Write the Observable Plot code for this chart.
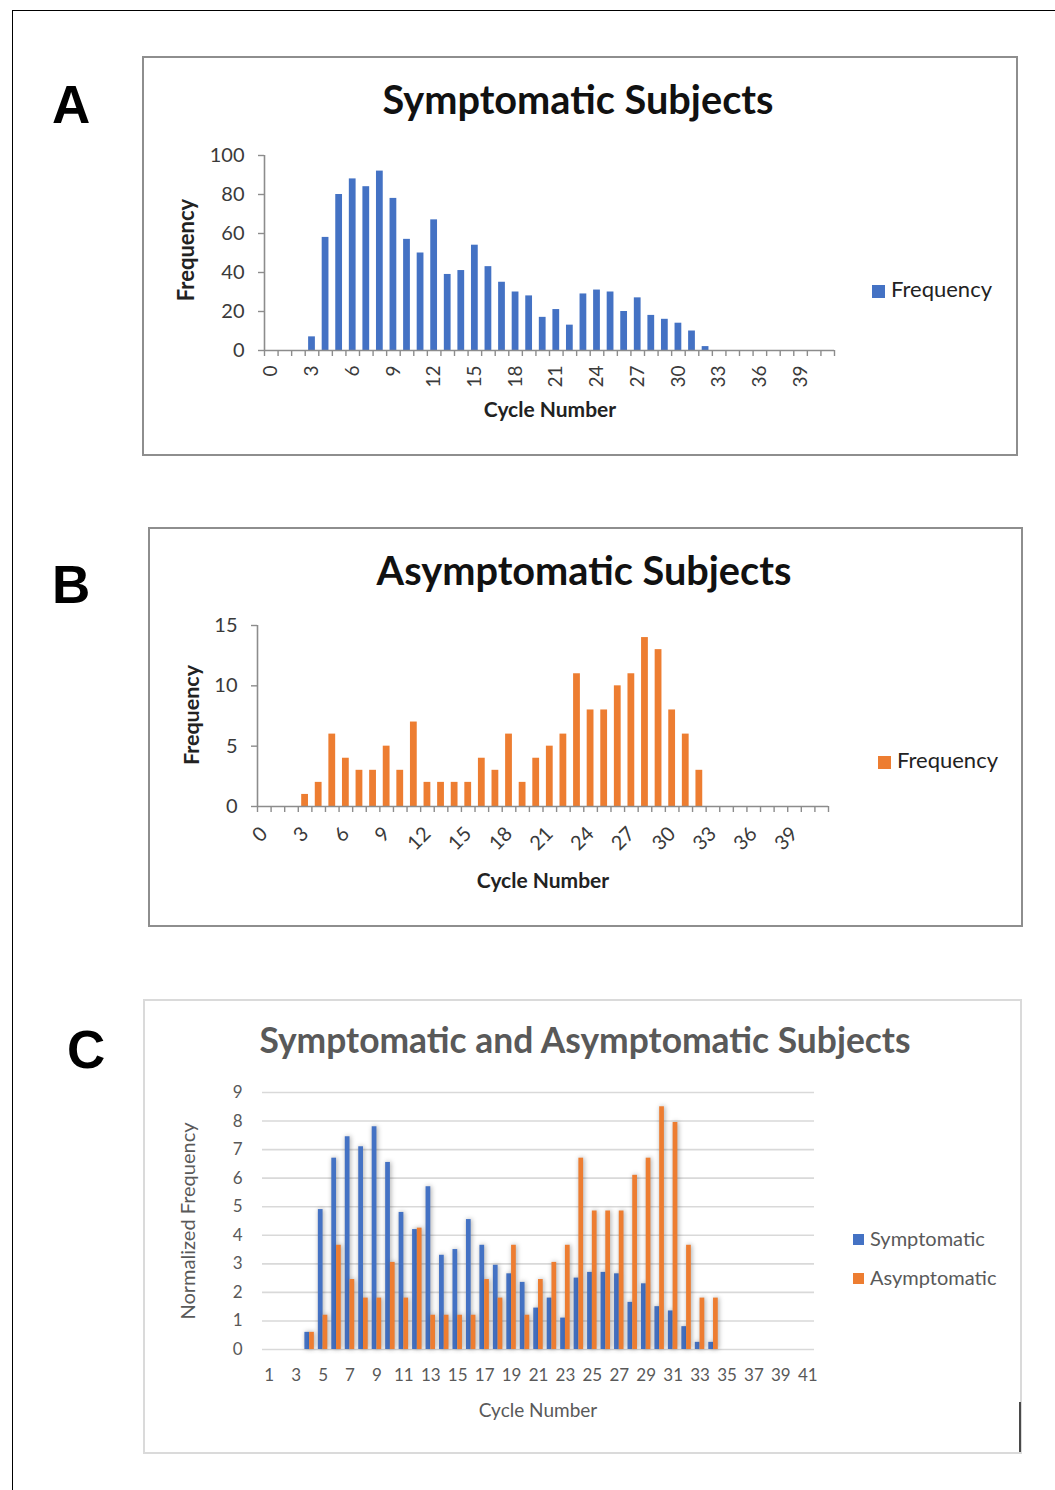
<!DOCTYPE html>
<html>
<head>
<meta charset="utf-8">
<script src="https://cdn.jsdelivr.net/npm/d3@7"></script>
<script src="https://cdn.jsdelivr.net/npm/@observablehq/plot@0.6"></script>
<style>
  html, body { margin: 0; padding: 0; background: #fff; }
  body { width: 1055px; height: 1490px; position: relative; overflow: hidden; font-family: Lato, sans-serif; }
  .abs { position: absolute; white-space: nowrap; line-height: 1; }
  .box { position: absolute; box-sizing: border-box; }
  .chart { position: absolute; }
  .sw { position: absolute; }
  #chartC g[aria-label="rect"] { filter: drop-shadow(1px 0px 2.5px rgba(0,0,0,0.34)); }
</style>
</head>
<body>
<div id="root"></div>
<script>
// ---------------- data ----------------
const BLUE = "#4472C4";
const ORANGE = "#ED7D31";

// Panel A & B categories (cycle numbers 0..41), bars present at 3..32
const cycleCats = d3.range(0, 42);
const barCyclesAB = [3,4,5,6,7,8,9,10,11,12,13,14,15,16,17,18,19,20,21,22,23,24,25,26,27,28,29,30,31,32];
const freqSymptomatic = [7,58,80,88,84,92,78,57,50,67,39,41,54,43,35,30,28,17,21,13,29,31,30,20,27,18,16,14,10,2];
const freqAsymptomatic = [1,2,6,4,3,3,5,3,7,2,2,2,2,4,3,6,2,4,5,6,11,8,8,10,11,14,13,8,6,3];
const yTicksA = [0,20,40,60,80,100];
const yTicksB = [0,5,10,15];
const xLabelsAB = [0,3,6,9,12,15,18,21,24,27,30,33,36,39];

// Panel C categories (1..41), bars at 4..34
const cycleCatsC = d3.range(1, 42);
const barCyclesC = [4,5,6,7,8,9,10,11,12,13,14,15,16,17,18,19,20,21,22,23,24,25,26,27,28,29,30,31,32,33,34];
const normSymptomatic = [0.6,4.9,6.7,7.45,7.1,7.8,6.55,4.8,4.2,5.7,3.3,3.5,4.55,3.65,2.95,2.65,2.35,1.45,1.8,1.1,2.5,2.7,2.7,2.65,1.65,2.3,1.5,1.35,0.8,0.25,0.25];
const normAsymptomatic = [0.6,1.2,3.65,2.45,1.8,1.8,3.05,1.8,4.25,1.2,1.2,1.2,1.2,2.45,1.8,3.65,1.2,2.45,3.05,3.65,6.7,4.85,4.85,4.85,6.1,6.7,8.5,7.95,3.65,1.8,1.8];
const yTicksC = [0,1,2,3,4,5,6,7,8,9];
const xLabelsC = [1,3,5,7,9,11,13,15,17,19,21,23,25,27,29,31,33,35,37,39,41];

// ---------------- helpers ----------------
const root = document.getElementById("root");
function el(cls, css, html) {
  const d = document.createElement("div");
  d.className = cls;
  Object.assign(d.style, css);
  if (html !== undefined) d.textContent = html;
  root.appendChild(d);
  return d;
}
// place text by baseline (Lato baseline ~0.887em below top with line-height 1)
function text(str, x, baseline, fs, opts = {}) {
  const ratio = opts.ratio || 0.887;
  const css = {
    left: x + "px",
    top: (baseline - ratio * fs) + "px",
    fontSize: fs + "px",
    fontWeight: opts.bold ? "700" : "400",
    color: opts.color || "#000",
    fontFamily: opts.font || "Lato, sans-serif"
  };
  if (opts.anchor === "middle") css.transform = "translateX(-50%)";
  return el("abs", css, str);
}
function vtext(str, cx, cy, fs, opts = {}) {
  return el("abs", {
    left: cx + "px", top: cy + "px",
    fontSize: fs + "px",
    fontWeight: opts.bold ? "700" : "400",
    color: opts.color || "#000",
    transform: "translate(-50%, -50%) rotate(-90deg)",
    fontFamily: "Lato, sans-serif"
  }, str);
}

// outer frame
el("box", {left: "12px", top: "10px", width: "1200px", height: "1600px", borderLeft: "1.5px solid #000", borderTop: "1.5px solid #000"});
// panel boxes
el("box", {left: "142px", top: "56px", width: "876px", height: "400px", border: "2px solid #8e8e8e"});
el("box", {left: "148px", top: "527px", width: "875px", height: "400px", border: "2px solid #8e8e8e"});
el("box", {left: "143px", top: "999px", width: "879px", height: "455px", border: "2px solid #dadada"});
el("box", {left: "1019px", top: "1402px", width: "2px", height: "50px", background: "#4a4a4a"});

// panel letters
text("A", 52, 123, 53, {bold: true, font: "'Liberation Sans', Arial, sans-serif", ratio: 0.846});
text("B", 52, 603, 53, {bold: true, font: "'Liberation Sans', Arial, sans-serif", ratio: 0.846});
text("C", 67, 1068, 53, {bold: true, font: "'Liberation Sans', Arial, sans-serif", ratio: 0.846});

// titles
text("Symptomatic Subjects", 578, 114, 39.7, {bold: true, anchor: "middle", color: "#111"});
text("Asymptomatic Subjects", 584, 585, 39.7, {bold: true, anchor: "middle", color: "#111"});
text("Symptomatic and Asymptomatic Subjects", 585, 1053, 35.4, {bold: true, anchor: "middle", color: "#595959"});

// axis titles
vtext("Frequency", 186, 250, 22, {bold: true, color: "#222"});
text("Cycle Number", 550, 417, 21, {bold: true, anchor: "middle", color: "#222"});
vtext("Frequency", 192, 715, 21.5, {bold: true, color: "#222"});
text("Cycle Number", 543, 888, 21, {bold: true, anchor: "middle", color: "#222"});
vtext("Normalized Frequency", 187, 1221, 20, {color: "#595959"});
text("Cycle Number", 538, 1417, 19, {anchor: "middle", color: "#595959"});

// legends
el("sw", {left: "872px", top: "285px", width: "13px", height: "13px", background: BLUE});
text("Frequency", 891, 298, 22, {color: "#222"});
el("sw", {left: "878px", top: "756px", width: "13px", height: "13px", background: ORANGE});
text("Frequency", 897, 769, 22, {color: "#222"});
el("sw", {left: "853px", top: "1234px", width: "11px", height: "11px", background: BLUE});
text("Symptomatic", 870, 1246, 20, {color: "#595959"});
el("sw", {left: "853px", top: "1273px", width: "11px", height: "11px", background: ORANGE});
text("Asymptomatic", 870, 1285, 20, {color: "#595959"});

// ---------------- charts ----------------
const AXIS = "#8c8c8c";
const TXT = "#3a3a3a";
const edgesAB = cycleCats.map(c => c - 0.5).concat([cycleCats[cycleCats.length - 1] + 0.5]);

function mount(svg, left, top, id) {
  const wrap = el("chart", {left: left + "px", top: top + "px"});
  if (id) wrap.id = id;
  wrap.appendChild(svg);
}

function panelAB(values, color, yTicks, rotate, dims) {
  const data = barCyclesAB.map((c, i) => ({c, v: values[i]}));
  const yMax = yTicks[yTicks.length - 1];
  return Plot.plot({
    width: dims.width, height: dims.height,
    marginLeft: dims.ml, marginRight: dims.mr, marginTop: dims.mt, marginBottom: dims.mb,
    style: {fontFamily: "Lato, sans-serif", fontSize: "20px", background: "transparent", overflow: "visible"},
    x: {type: "linear", domain: [edgesAB[0], edgesAB[edgesAB.length - 1]]},
    y: {domain: [0, yMax]},
    marks: [
      Plot.rectY(data, {x1: d => d.c - 0.5, x2: d => d.c + 0.5, y: "v", fill: color, insetLeft: 3.4, insetRight: 3.4}),
      Plot.ruleY([0], {stroke: AXIS, strokeWidth: 1.6}),
      Plot.ruleX([edgesAB[0]], {y1: 0, y2: yMax, stroke: AXIS, strokeWidth: 1.6}),
      Plot.axisY({ticks: yTicks, tickSize: 6, tickFormat: () => "", color: AXIS, label: null, strokeWidth: 1.4}),
      Plot.axisY({ticks: yTicks, tickSize: 0, tickPadding: dims.ypad, color: TXT, fontSize: 20, label: null, tickFormat: d => String(d)}),
      Plot.axisX({ticks: edgesAB, tickSize: 6, tickFormat: () => "", color: AXIS, label: null, strokeWidth: 1.4}),
      Plot.axisX({ticks: xLabelsAB, tickSize: 0, tickPadding: dims.xpad, tickRotate: rotate, color: TXT, fontSize: dims.xfs, label: null, tickFormat: d => String(d)})
    ]
  });
}

mount(panelAB(freqSymptomatic, BLUE, yTicksA, -90,
  {width: 720, height: 290, ml: 114, mr: 36, mt: 15, mb: 80, ypad: 20, xpad: 15, xfs: 19}), 150, 140);
mount(panelAB(freqAsymptomatic, ORANGE, yTicksB, -45,
  {width: 720, height: 280, ml: 107, mr: 42, mt: 15, mb: 84, ypad: 20, xpad: 24, xfs: 20}), 150, 610);

// Panel C
const dataCS = barCyclesC.map((c, i) => ({c, v: normSymptomatic[i]}));
const dataCA = barCyclesC.map((c, i) => ({c, v: normAsymptomatic[i]}));
const chartC = Plot.plot({
  width: 700, height: 320, marginLeft: 112, marginRight: 36, marginTop: 12, marginBottom: 51,
  style: {fontFamily: "Lato, sans-serif", fontSize: "17px", background: "transparent", overflow: "visible"},
  x: {type: "linear", domain: [cycleCatsC[0] - 0.5, cycleCatsC[cycleCatsC.length - 1] + 0.5]},
  y: {domain: [0, 9]},
  marks: [
    Plot.ruleY(yTicksC, {stroke: "#d9d9d9", strokeWidth: 1.6}),
    Plot.rectY(dataCS, {x1: d => d.c - 0.5, x2: d => d.c, y: "v", fill: BLUE, insetLeft: 2.0, insetRight: 0}),
    Plot.rectY(dataCA, {x1: d => d.c, x2: d => d.c + 0.5, y: "v", fill: ORANGE, insetLeft: 0, insetRight: 2.0}),
    Plot.axisY({ticks: yTicksC, tickSize: 0, tickPadding: 20, color: "#595959", fontSize: 17, label: null, tickFormat: d => String(d)}),
    Plot.axisX({ticks: xLabelsC, tickSize: 0, tickPadding: 19, color: "#595959", fontSize: 17, label: null, tickFormat: d => String(d)})
  ]
});
mount(chartC, 150, 1080, "chartC");
</script>
</body>
</html>
